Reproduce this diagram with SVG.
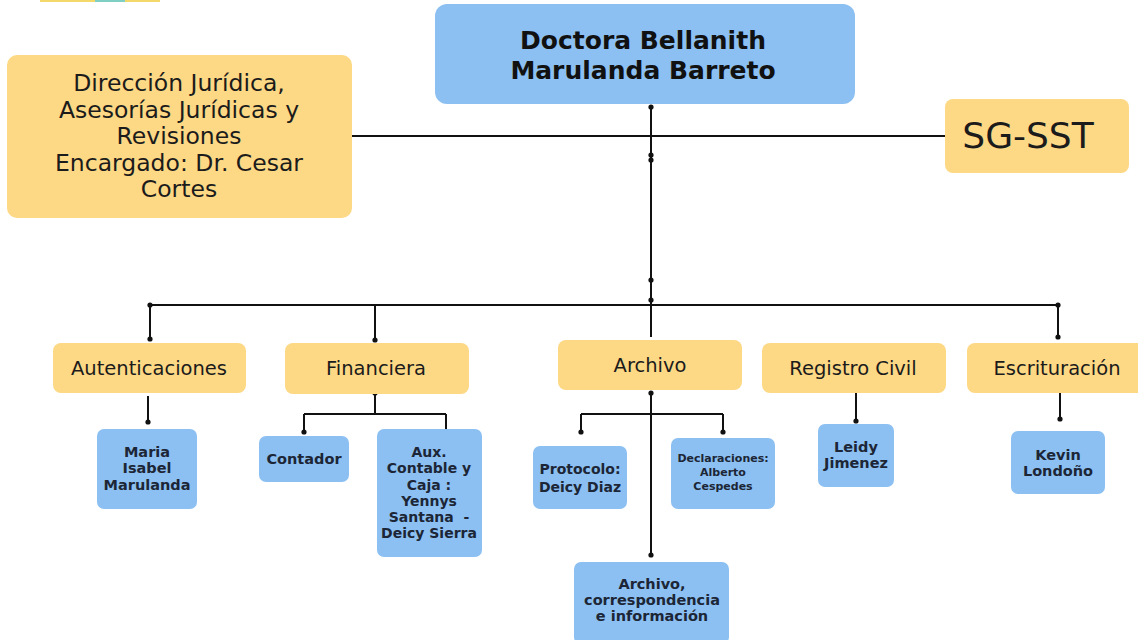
<svg xmlns="http://www.w3.org/2000/svg" width="1138" height="640" viewBox="0 0 1138 640">
<style>
.y{fill:#fdd885}
.b{fill:#8cc0f2}
.t{font-family:"DejaVu Sans","Noto Sans",sans-serif;fill:#1b1b1b;text-anchor:middle}
.tb{font-family:"DejaVu Sans","Noto Sans",sans-serif;fill:#1c2636;text-anchor:middle;font-weight:bold}
.ln{stroke:#111;stroke-width:2;fill:none}
.d{fill:#111}
</style>
<rect width="1138" height="640" fill="#ffffff"/>
<rect x="40" y="0" width="120" height="2" fill="#f3d86a"/>
<rect x="95" y="0" width="30" height="2" fill="#7fcfc4"/>
<g id="connectors">
<path class="ln" d="M352 136H945"/>
<path class="ln" d="M651 107V337"/>
<path class="ln" d="M150 305H1058"/>
<path class="ln" d="M150 305V339M375 305V339M1058 305V337"/>
<path class="ln" d="M148 396V422"/>
<path class="ln" d="M375 393V414M304 414H446M304 414V432M446 414V432"/>
<path class="ln" d="M651 393V555M581 414H723M581 414V432M723 414V432"/>
<path class="ln" d="M856 393V421"/>
<path class="ln" d="M1060 393V419"/>
<g class="d">
<circle cx="651" cy="107" r="2.6"/><circle cx="651" cy="155" r="2.6"/><circle cx="651" cy="160" r="2.6"/><circle cx="651" cy="280" r="2.6"/><circle cx="651" cy="300" r="2.6"/>
<circle cx="150" cy="305" r="2.6"/><circle cx="1058" cy="305" r="2.6"/>
<circle cx="150" cy="339" r="2.6"/><circle cx="375" cy="340" r="2.6"/><circle cx="1058" cy="337" r="2.6"/>
<circle cx="148" cy="422" r="2.6"/>
<circle cx="375" cy="393" r="2.6"/><circle cx="304" cy="432" r="2.6"/><circle cx="446" cy="432" r="2.6"/>
<circle cx="651" cy="393" r="2.6"/><circle cx="651" cy="555" r="2.6"/><circle cx="581" cy="432" r="2.6"/><circle cx="723" cy="432" r="2.6"/>
<circle cx="856" cy="421" r="2.6"/><circle cx="1060" cy="419" r="2.6"/>
</g>
</g>
<g id="top">
<rect class="b" x="435" y="4" width="420" height="100" rx="12"/>
<text class="tb" x="643" y="49" font-size="25" style="fill:#111">Doctora Bellanith</text>
<text class="tb" x="643" y="79" font-size="25" style="fill:#111">Marulanda Barreto</text>
</g>
<g id="juridica">
<rect class="y" x="7" y="55" width="345" height="163" rx="10"/>
<text class="t" x="179" y="91" font-size="23.5">Dirección Jurídica,</text>
<text class="t" x="179" y="118" font-size="23.5">Asesorías Jurídicas y</text>
<text class="t" x="179" y="144" font-size="23.5">Revisiones</text>
<text class="t" x="179" y="171" font-size="23.5">Encargado: Dr. Cesar</text>
<text class="t" x="179" y="197" font-size="23.5">Cortes</text>
</g>
<g id="sgsst">
<rect class="y" x="945" y="99" width="184" height="74" rx="8"/>
<text class="t" x="1028" y="148" font-size="36">SG-SST</text>
</g>
<g id="autenticaciones">
<rect class="y" x="53" y="343" width="193" height="50" rx="8"/>
<text class="t" x="149" y="375" font-size="19.5">Autenticaciones</text>
</g>
<g id="financiera">
<rect class="y" x="285" y="343" width="184" height="51" rx="8"/>
<text class="t" x="376" y="375" font-size="19.5">Financiera</text>
</g>
<g id="archivo">
<rect class="y" x="558" y="340" width="184" height="50" rx="8"/>
<text class="t" x="650" y="372" font-size="19.5">Archivo</text>
</g>
<g id="registro">
<rect class="y" x="762" y="343" width="184" height="50" rx="8"/>
<text class="t" x="853" y="375" font-size="19.5">Registro Civil</text>
</g>
<g id="escrituracion">
<rect class="y" x="967" y="343" width="180" height="50" rx="8"/>
<text class="t" x="1057" y="375" font-size="19.5">Escrituración</text>
</g>
<g id="maria">
<rect class="b" x="97" y="429" width="100" height="80" rx="7"/>
<text class="tb" x="147" y="457" font-size="14.5">Maria</text>
<text class="tb" x="147" y="473" font-size="14.5">Isabel</text>
<text class="tb" x="147" y="490" font-size="14.5">Marulanda</text>
</g>
<g id="contador">
<rect class="b" x="259" y="436" width="90" height="46" rx="7"/>
<text class="tb" x="304" y="464" font-size="14.5">Contador</text>
</g>
<g id="aux">
<rect class="b" x="377" y="429" width="105" height="128" rx="7"/>
<text class="tb" x="429" y="457" font-size="14">Aux.</text>
<text class="tb" x="429" y="473" font-size="14">Contable y</text>
<text class="tb" x="429" y="490" font-size="14">Caja :</text>
<text class="tb" x="429" y="506" font-size="14">Yennys</text>
<text class="tb" x="429" y="522" font-size="14" xml:space="preserve">Santana  -</text>
<text class="tb" x="429" y="538" font-size="14">Deicy Sierra</text>
</g>
<g id="protocolo">
<rect class="b" x="533" y="446" width="94" height="63" rx="7"/>
<text class="tb" x="580" y="474" font-size="14">Protocolo:</text>
<text class="tb" x="580" y="492" font-size="14">Deicy Diaz</text>
</g>
<g id="declaraciones">
<rect class="b" x="671" y="438" width="104" height="71" rx="7"/>
<text class="tb" x="723" y="462" font-size="11">Declaraciones:</text>
<text class="tb" x="723" y="476" font-size="11">Alberto</text>
<text class="tb" x="723" y="490" font-size="11">Cespedes</text>
</g>
<g id="correspondencia">
<rect class="b" x="574" y="562" width="155" height="82" rx="7"/>
<text class="tb" x="652" y="589" font-size="14.5">Archivo,</text>
<text class="tb" x="652" y="605" font-size="14.5">correspondencia</text>
<text class="tb" x="652" y="621" font-size="14.5">e información</text>
</g>
<g id="leidy">
<rect class="b" x="818" y="424" width="76" height="63" rx="7"/>
<text class="tb" x="856" y="452" font-size="14.5">Leidy</text>
<text class="tb" x="856" y="468" font-size="14.5">Jimenez</text>
</g>
<g id="kevin">
<rect class="b" x="1011" y="431" width="94" height="63" rx="7"/>
<text class="tb" x="1058" y="460" font-size="14.5">Kevin</text>
<text class="tb" x="1058" y="476" font-size="14.5">Londoño</text>
</g>
</svg>
